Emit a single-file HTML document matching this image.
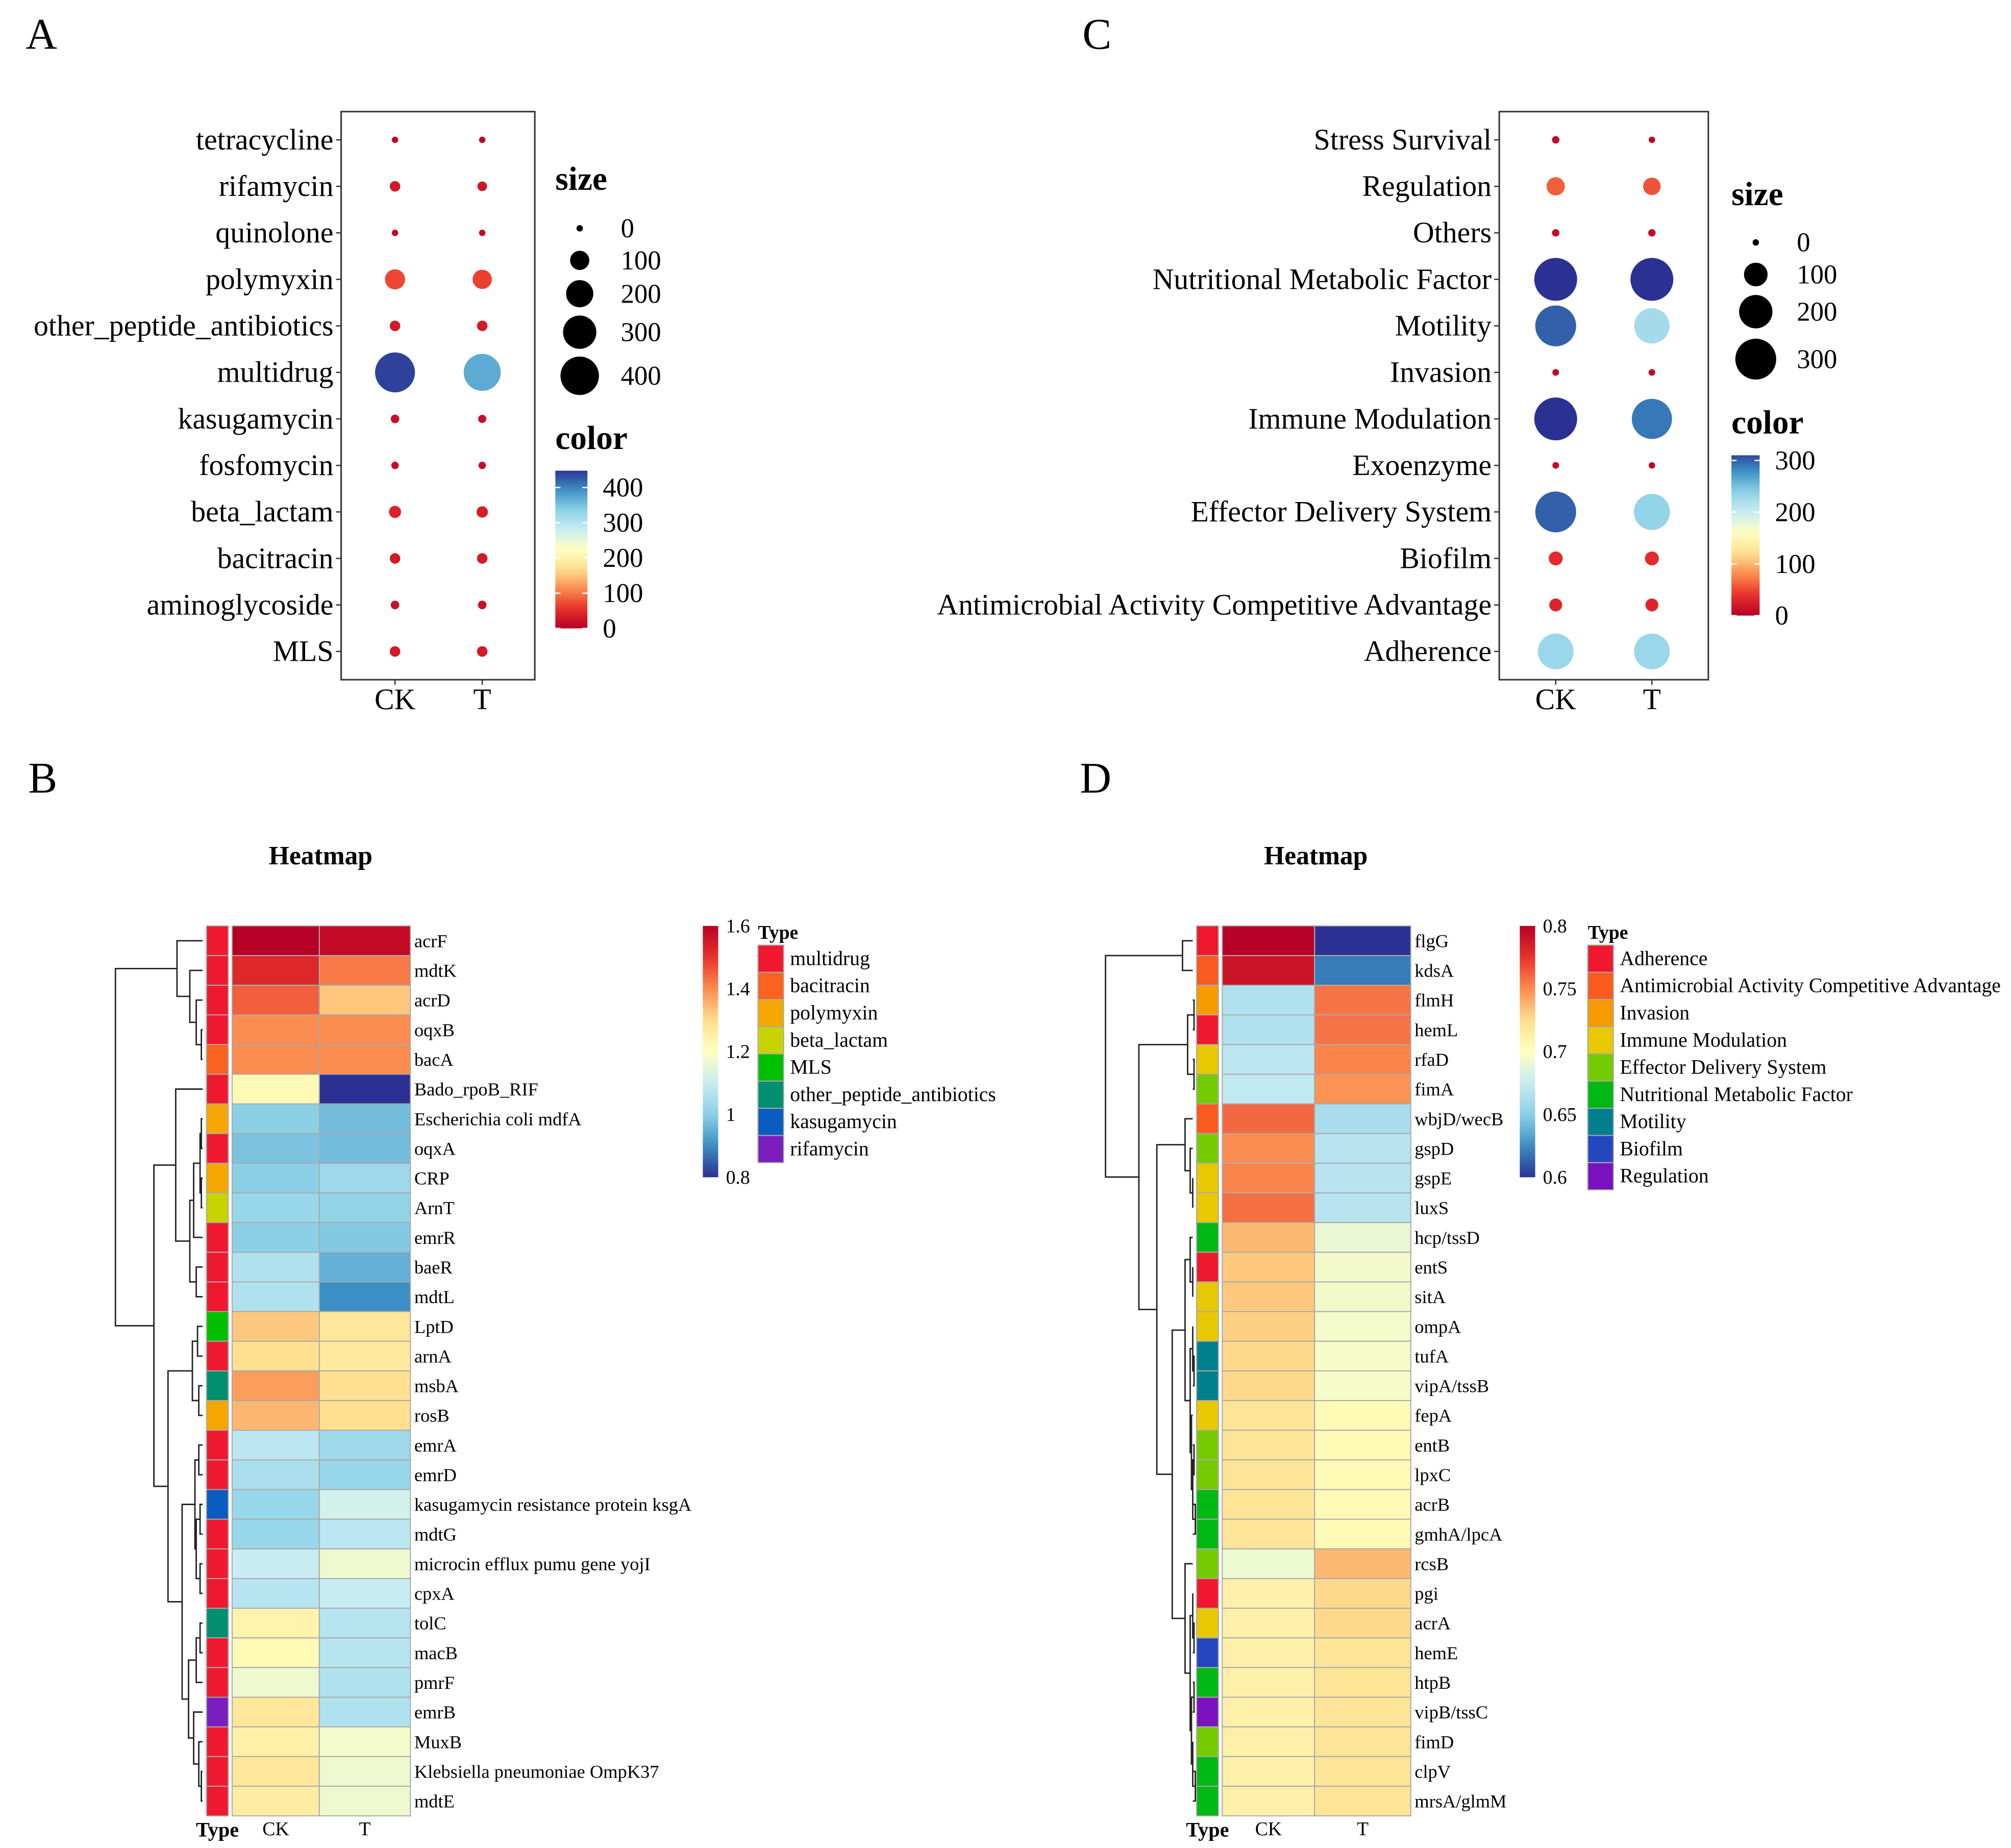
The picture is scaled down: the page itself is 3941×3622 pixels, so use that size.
<!DOCTYPE html>
<html><head><meta charset="utf-8"><style>
html,body{margin:0;padding:0;background:#fff;}
svg{display:block;font-family:"Liberation Serif",serif;}
</style></head><body>
<svg id="s" width="3941" height="3622" viewBox="0 0 1568 1441" xmlns="http://www.w3.org/2000/svg">
<rect width="1568" height="1441" fill="#fff"/>
<g id="g"></g>
</svg>
<script>
// ---- Panel A data ----
const aCats=["tetracycline","rifamycin","quinolone","polymyxin","other_peptide_antibiotics","multidrug","kasugamycin","fosfomycin","beta_lactam","bacitracin","aminoglycoside","MLS"];
const aCK=[8,30,10,110,30,430,20,15,40,30,20,30];
const aT=[3,25,8,100,30,370,18,15,35,30,20,30];
const aColCK=[8,30,10,70,30,440,20,15,40,30,20,30];
const aColT=[3,25,8,65,30,370,18,15,35,30,20,30];
const aSizeTicks=[0,100,200,300,400];
const aColorTicks=[0,100,200,300,400];
// ---- Panel C data ----
const cCats=["Stress Survival","Regulation","Others","Nutritional Metabolic Factor","Motility","Invasion","Immune Modulation","Exoenzyme","Effector Delivery System","Biofilm","Antimicrobial Activity Competitive Advantage","Adherence"];
const cCK=[10,60,10,330,300,8,330,8,300,35,30,230];
const cT=[3,55,10,330,225,8,290,5,235,35,30,230];
const cSizeTicks=[0,100,200,300];
const cColorTicks=[0,100,200,300];
// ---- Panel B data ----
const bGenes=["acrF","mdtK","acrD","oqxB","bacA","Bado_rpoB_RIF","Escherichia coli mdfA","oqxA","CRP","ArnT","emrR","baeR","mdtL","LptD","arnA","msbA","rosB","emrA","emrD","kasugamycin resistance protein ksgA","mdtG","microcin efflux pumu gene yojI","cpxA","tolC","macB","pmrF","emrB","MuxB","Klebsiella pneumoniae OmpK37","mdtE"];
const bCK=[1.6,1.52,1.45,1.4,1.4,1.22,1.0,0.98,1.0,1.02,1.0,1.06,1.06,1.33,1.3,1.38,1.35,1.08,1.05,1.02,1.02,1.1,1.07,1.24,1.22,1.17,1.28,1.25,1.28,1.26];
const bT=[1.58,1.42,1.33,1.4,1.4,0.8,0.97,0.97,1.03,1.01,0.99,0.95,0.9,1.28,1.27,1.3,1.3,1.03,1.02,1.12,1.08,1.17,1.1,1.07,1.07,1.06,1.06,1.18,1.17,1.17];
const bTypes=[0,0,0,0,1,0,2,0,2,3,0,0,0,4,0,5,2,0,0,6,0,0,0,5,0,0,7,0,0,0];
const bTypeNames=["multidrug","bacitracin","polymyxin","beta_lactam","MLS","other_peptide_antibiotics","kasugamycin","rifamycin"];
const bTypeColors=["#f0182e","#fb6220","#f6a600","#c8d400","#00c000","#009070","#0a5cc0","#7a1ec0"];
const bTicks=[0.8,1,1.2,1.4,1.6];
// ---- Panel D data ----
const dGenes=["flgG","kdsA","flmH","hemL","rfaD","fimA","wbjD/wecB","gspD","gspE","luxS","hcp/tssD","entS","sitA","ompA","tufA","vipA/tssB","fepA","entB","lpxC","acrB","gmhA/lpcA","rcsB","pgi","acrA","hemE","htpB","vipB/tssC","fimD","clpV","mrsA/glmM"];
const dCK=[0.8,0.79,0.665,0.665,0.67,0.672,0.76,0.75,0.752,0.758,0.737,0.732,0.732,0.73,0.727,0.727,0.722,0.722,0.722,0.722,0.722,0.692,0.712,0.712,0.712,0.712,0.712,0.712,0.712,0.712];
const dT=[0.6,0.62,0.757,0.757,0.752,0.748,0.662,0.668,0.668,0.668,0.69,0.694,0.694,0.695,0.696,0.696,0.705,0.705,0.705,0.705,0.705,0.737,0.727,0.727,0.722,0.722,0.722,0.722,0.722,0.722];
const dTypes=[0,1,2,0,3,4,1,4,3,3,5,0,3,3,6,6,3,4,4,5,5,4,0,3,7,5,8,4,5,5];
const dTypeNames=["Adherence","Antimicrobial Activity Competitive Advantage","Invasion","Immune Modulation","Effector Delivery System","Nutritional Metabolic Factor","Motility","Biofilm","Regulation"];
const dTypeColors=["#f0182e","#fb5a1e","#f69a00","#e8c800","#74cc00","#00b814","#00808f","#2447c0","#7a12c0"];
const dTicks=[0.6,0.65,0.7,0.75,0.8];

const NS="http://www.w3.org/2000/svg";
const G=document.getElementById('g');
function mk(tag,attrs,parent,txt){const e=document.createElementNS(NS,tag);for(const k in attrs)e.setAttribute(k,attrs[k]);if(txt!==undefined)e.textContent=txt;(parent||G).appendChild(e);return e;}
const RAMP=["#b80026","#e8312a","#fb8c4f","#fee090","#ffffc0","#c8ecf4","#8cd0e6","#3b8fc4","#2b3192"];
function ramp(t){t=Math.max(0,Math.min(1,t));const p=t*(RAMP.length-1);const i=Math.min(RAMP.length-2,Math.floor(p));const f=p-i;
 const a=RAMP[i],b=RAMP[i+1];const h=(s,o)=>parseInt(s.substr(o,2),16);
 const c=[1,3,5].map(o=>Math.round(h(a,o)+(h(b,o)-h(a,o))*f));return `rgb(${c[0]},${c[1]},${c[2]})`;}
function T(x,y,s,size,anchor,weight,name){const e=mk('text',{x:x,y:y,'font-size':size,'text-anchor':anchor||'start','font-weight':weight||'normal',fill:'#000'},G,s);
 
 return e;}

[["A",20,38],["C",844,38],["B",22,618],["D",842,618]].forEach(l=>{T(l[1],l[2],l[0],34,'start','normal','panel-label-'+l[0].toLowerCase());});

// ---- Dot plot ----
function dotPanel(o){
 const box=mk('rect',{x:o.x0,y:87,width:o.x1-o.x0,height:443,fill:'none',stroke:'#333','stroke-width':1.2});
 
 
 const yOf=i=>109+i*36.27;
 const col=v=>ramp(v/o.cmax);
 const rad=v=>Math.max(2.5,o.rk*Math.sqrt(v));
 o.cats.forEach((c,i)=>{
  const y=yOf(i);
  T(o.x0-6,y+7.5,c,23,'end','normal',o.id+'-y-label');
  const tk=mk('line',{x1:o.x0-4,x2:o.x0,y1:y,y2:y,stroke:'#333'});
  
  
  [[o.ck,o.ckc,o.cx],[o.t,o.tc,o.tx]].forEach((s,j)=>{
   const d=mk('circle',{cx:s[2],cy:y,r:rad(s[0][i]),fill:col(s[1][i])});
   
   
  });
 });
 [["CK",o.cx],["T",o.tx]].forEach(p=>{const tk=mk('line',{x1:p[1],x2:p[1],y1:530,y2:534,stroke:'#333'});
  
  
  T(p[1],553,p[0],23,'middle','normal',o.id+'-x-label');});
 T(o.lx,o.sizeTitleY,'size',26,'start','bold',o.id+'-size-legend-title');
 o.sizeTicks.forEach((v,i)=>{const y=o.sizeYs[i];
  const d=mk('circle',{cx:o.lx+19,cy:y,r:rad(v),fill:'#000'});
  
  
  T(o.lx+51,y+7,String(v),21,'start','normal',o.id+'-size-legend-label');});
 T(o.lx,o.colorTitleY,'color',26,'start','bold',o.id+'-color-legend-title');
 const gid=o.id+'grad';const defs=mk('defs',{});const lg=mk('linearGradient',{id:gid,x1:0,y1:1,x2:0,y2:0},defs);
 for(let k=0;k<=20;k++){mk('stop',{offset:k/20,'stop-color':ramp(k/20*o.barMax/o.cmax)},lg);}
 const bar=mk('rect',{x:o.lx,y:o.barTop,width:o.barW,height:o.barBot-o.barTop,fill:`url(#${gid})`});
 
 
 o.colorTicks.forEach(v=>{const y=o.barBot-(v/o.barMax)*(o.barBot-o.barTop);
  mk('line',{x1:o.lx,x2:o.lx+4,y1:y,y2:y,stroke:'#fff'});mk('line',{x1:o.lx+o.barW-4,x2:o.lx+o.barW,y1:y,y2:y,stroke:'#fff'});
  T(o.lx+o.barW+12,y+7,String(v),21,'start','normal',o.id+'-colorbar-label');});
}
dotPanel({id:'a',x0:266,x1:417,cx:308,tx:376,cats:aCats,ck:aCK,t:aT,ckc:aColCK,tc:aColT,cmax:450,rk:0.75,lx:433,sizeTitleY:148,sizeTicks:aSizeTicks,sizeYs:[178,203,229,259,293],colorTitleY:350,colorTicks:aColorTicks,barTop:367,barBot:490,barW:25,barMax:450*0.995});
dotPanel({id:'c',x0:1169,x1:1332,cx:1213,tx:1288,cats:cCats,ck:cCK,t:cT,ckc:cCK,tc:cT,cmax:320,rk:0.92,lx:1350,sizeTitleY:160,sizeTicks:cSizeTicks,sizeYs:[189,214,243,280],colorTitleY:338,colorTicks:cColorTicks,barTop:355,barBot:480,barW:22,barMax:310});

// ---- Heatmaps ----
function heat(o){
 const n=o.genes.length,top=722,bot=1416,rh=(bot-top)/n;
 const rc=i=>top+rh*(i+0.5);
 const col=v=>ramp((o.vmax-v)/(o.vmax-o.vmin));
 T(o.titleX,674,'Heatmap',20.5,'middle','bold',o.id+'-heatmap-title');
 o.genes.forEach((g,i)=>{
  const y=top+i*rh;
  const tc=mk('rect',{x:o.tx0,y:y,width:o.tx1-o.tx0,height:rh,fill:o.tcolors[o.types[i]],stroke:'#aaa','stroke-width':0.8});
  
  
  const c1=mk('rect',{x:o.c0,y:y,width:o.c1-o.c0,height:rh,fill:col(o.ck[i]),stroke:'#aaa','stroke-width':0.8});
  
  
  const c2=mk('rect',{x:o.c1,y:y,width:o.c2-o.c1,height:rh,fill:col(o.t[i]),stroke:'#aaa','stroke-width':0.8});
  
  
  T(o.c2+3,y+rh/2+5,g,14.5,'start','normal',o.id+'-row-label');
 });
 T((o.tx0+o.tx1)/2,1432,'Type',16,'middle','bold',o.id+'-type-col-label');
 T((o.c0+o.c1)/2,1431,'CK',15,'middle','normal',o.id+'-col-label');
 T((o.c1+o.c2)/2,1431,'T',15,'middle','normal',o.id+'-col-label');
 const leafX=o.tx0-3;
 function draw(nd){
  if(typeof nd==='number')return {x:leafX,y:rc(nd)};
  const a=draw(nd[1]),b=draw(nd[2]);
  const x=nd[0];
  mk('path',{d:`M${a.x},${a.y}H${x}V${b.y}H${b.x}`,fill:'none',stroke:'#222','stroke-width':1.1});
  return {x:x,y:(a.y+b.y)/2};
 }
 draw(o.tree);
 const gid=o.id+'hg';const defs=mk('defs',{});const lg=mk('linearGradient',{id:gid,x1:0,y1:0,x2:0,y2:1},defs);
 for(let k=0;k<=20;k++)mk('stop',{offset:k/20,'stop-color':ramp(k/20)},lg);
 const bar=mk('rect',{x:o.bx,y:722,width:12,height:196,fill:`url(#${gid})`});
 
 
 o.ticks.forEach(v=>{const y=918-(v-o.vmin)/(o.vmax-o.vmin)*196;T(o.bx+18,y+5,String(v),15,'start','normal',o.id+'-colorbar-label');});
 T(o.lgx,732,'Type',15,'start','bold',o.id+'-type-legend-title');
 o.tnames.forEach((nm,i)=>{const y=737+i*21.2;
  const r=mk('rect',{x:o.lgx,y:y,width:20,height:21.2,fill:o.tcolors[i],stroke:'#aaa','stroke-width':0.8});
  
  
  T(o.lgx+25,y+15.5,nm,15.8,'start','normal',o.id+'-type-legend-label');});
}
heat({id:'b',genes:bGenes,ck:bCK,t:bT,types:bTypes,tcolors:bTypeColors,tnames:bTypeNames,vmin:0.8,vmax:1.6,ticks:bTicks,
 tx0:161,tx1:178,c0:181,c1:249,c2:320,titleX:250,bx:548,lgx:591,
 tree:[90,[138,0,[148,1,[153,2,[157,3,4]]]],[120,[137,5,[148,[151,[156,[157,6,7],[157,8,9]],10],[153,11,12]]],[131,[150,[154,13,14],[155,15,16]],[142,[152,[155,17,18],[153,[156,19,20],[156,21,22]]],[147,[153,[156,23,24],25],[151,26,[155,27,[157,28,29]]]]]]]]});
heat({id:'d',genes:dGenes,ck:dCK,t:dT,types:dTypes,tcolors:dTypeColors,tnames:dTypeNames,vmin:0.6,vmax:0.8,ticks:dTicks,
 tx0:933,tx1:950,c0:953,c1:1025,c2:1100,titleX:1026,bx:1185,lgx:1238,
 tree:[862,[922,0,1],[888,[926,[931,2,3],[931,4,5]],[902,[924,6,[928,7,[930,8,9]]],[914,[924,[928,10,[930,11,12]],[928,[930,13,[931,14,15]],[929,16,[930,[931,17,18],[932,19,20]]]]],[924,21,[928,[930,22,[931,23,24]],[929,[931,25,26],[930,27,[932,28,29]]]]]]]]]});
</script>
</body></html>
